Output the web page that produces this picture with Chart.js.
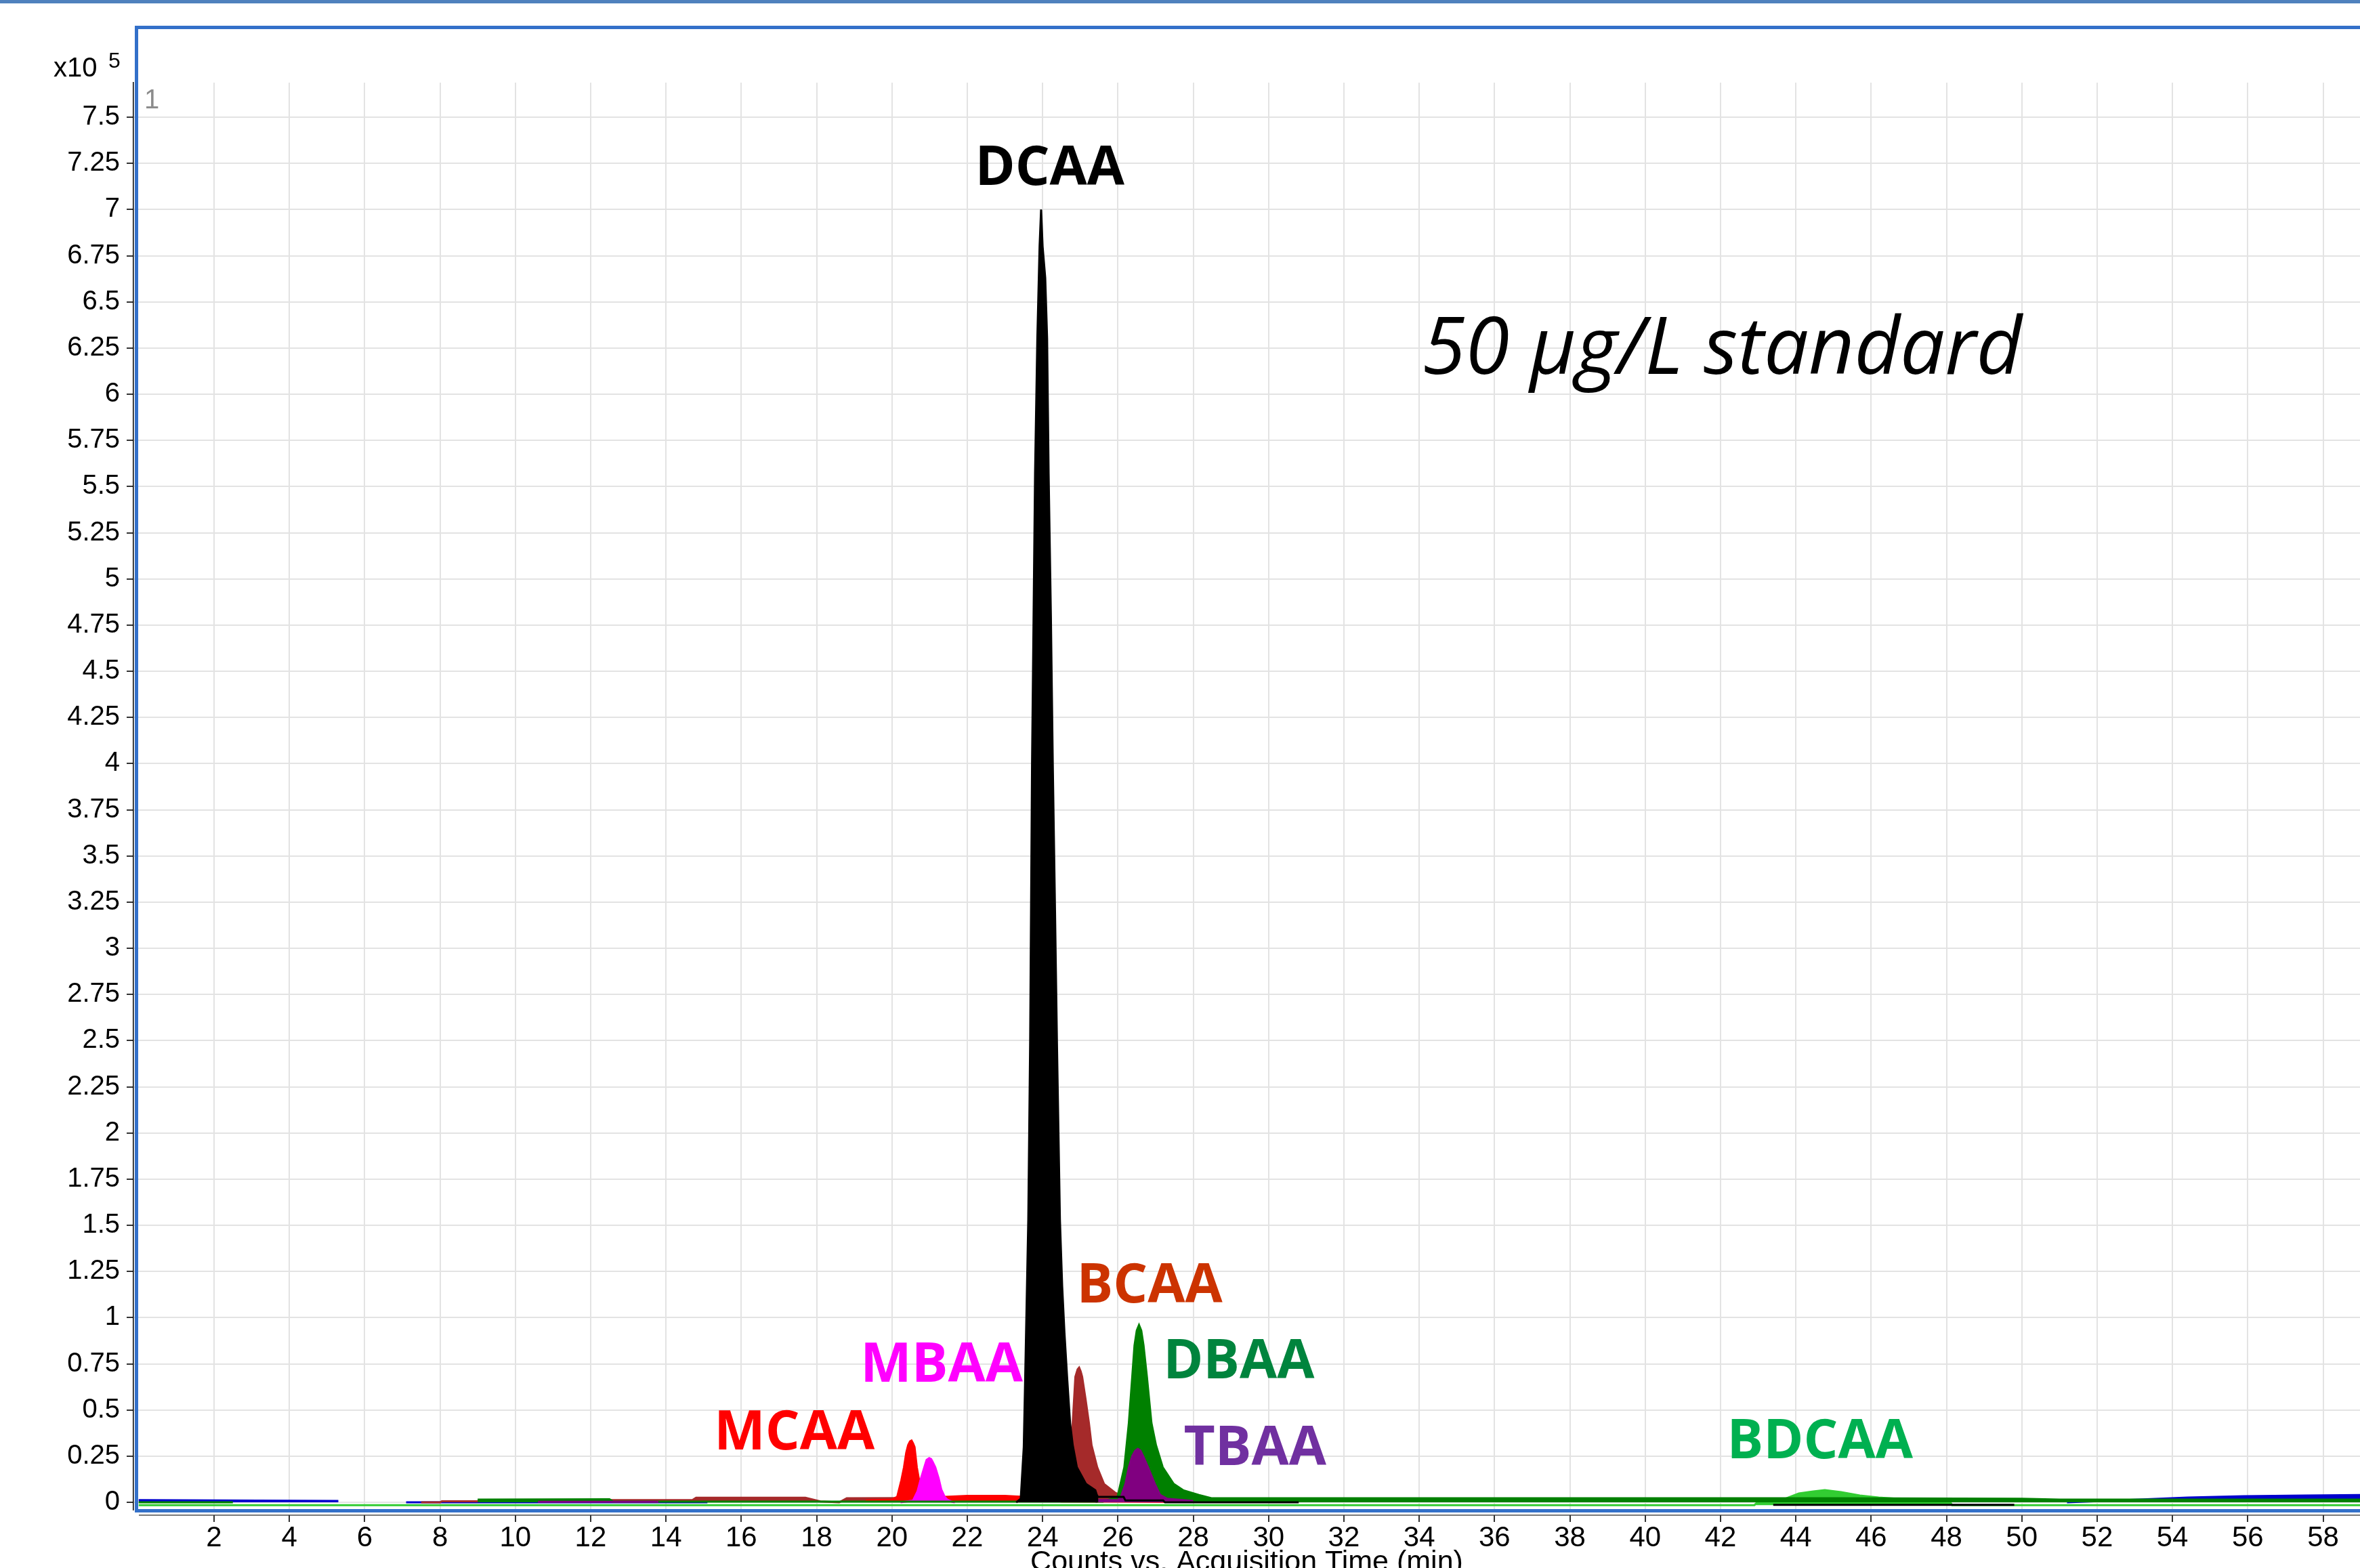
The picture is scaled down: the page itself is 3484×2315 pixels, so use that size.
<!DOCTYPE html>
<html>
<head>
<meta charset="utf-8">
<script src="https://cdn.jsdelivr.net/npm/chart.js@4.4.1/dist/chart.umd.min.js"></script>
<style>
  html, body { margin: 0; padding: 0; background: #fff; overflow: hidden; }
  canvas { display: block; }
</style>
</head>
<body>
<canvas id="chromatogram" width="3484" height="2336"></canvas>
<script>
// axis ticks
const xTickValues = [2, 4, 6, 8, 10, 12, 14, 16, 18, 20, 22, 24, 26, 28, 30, 32, 34, 36, 38, 40, 42, 44, 46, 48, 50, 52, 54, 56, 58];
const yTickValues = [0, 0.25, 0.5, 0.75, 1, 1.25, 1.5, 1.75, 2, 2.25, 2.5, 2.75, 3, 3.25, 3.5, 3.75, 4, 4.25, 4.5, 4.75, 5, 5.25, 5.5, 5.75, 6, 6.25, 6.5, 6.75, 7, 7.25, 7.5];

// traces: acquisition time (min) and counts (x10^5)
const dcaaTime = [23.3, 23.42, 23.5, 23.55, 23.62, 23.67, 23.72, 23.8, 23.86, 23.92, 23.96, 24.0, 24.07, 24.12, 24.16, 24.22, 24.27, 24.33, 24.38, 24.46, 24.52, 24.58, 24.65, 24.73, 24.8, 24.91, 25.15, 25.4, 25.44, 25.45];
const dcaaCounts = [0.0, 0.02, 0.3, 0.8, 1.53, 2.5, 4.0, 5.57, 6.3, 6.8, 7.0, 6.8, 6.63, 6.3, 5.57, 4.8, 4.0, 3.2, 2.5, 1.53, 1.17, 0.92, 0.68, 0.43, 0.31, 0.19, 0.10, 0.066, 0.04, 0.0];

const dcaaTailTime = [25.44, 25.46, 26.15, 26.2, 27.2, 27.25, 30.8, 30.85, 43.4, 49.8];
const dcaaTailCounts = [0.04, 0.03, 0.03, 0.01, 0.01, 0.0, 0.0, null, -0.013, -0.013];

const bcaaTime = [7.5, 8.0, 8.05, 12.0, 12.3, 14.7, 14.8, 17.7, 18.1, 18.6, 18.8, 24.0, 24.6, 24.73, 24.77, 24.8, 24.87, 24.93, 24.97, 25.01, 25.05, 25.14, 25.23, 25.3, 25.45, 25.63, 25.94, 26.3, 27.0, 28.0, 35.0, 45.0, 50.5, 51.0, 59.0];
const bcaaCounts = [0.0, 0.0, 0.006, 0.006, 0.012, 0.012, 0.025, 0.025, 0.005, 0.0, 0.022, 0.025, 0.03, 0.1, 0.19, 0.43, 0.68, 0.72, 0.73, 0.71, 0.68, 0.56, 0.43, 0.31, 0.19, 0.10, 0.05, 0.03, 0.022, 0.018, 0.016, 0.015, 0.013, 0.006, 0.006];

const dbaaTime = [0.0, 2.5, 2.6, 8.9, 9.0, 12.5, 12.6, 25.6, 25.99, 26.17, 26.29, 26.38, 26.44, 26.5, 26.56, 26.62, 26.68, 26.77, 26.89, 27.01, 27.19, 27.48, 27.73, 28.15, 28.5, 35.0, 45.0, 50.0, 51.0, 59.0];
const dbaaCounts = [0.0, 0.0, null, null, 0.015, 0.017, 0.004, 0.004, 0.03, 0.19, 0.43, 0.68, 0.85, 0.93, 0.96, 0.93, 0.85, 0.68, 0.43, 0.31, 0.19, 0.10, 0.066, 0.04, 0.022, 0.022, 0.022, 0.02, 0.015, 0.015];

const tbaaTime = [10.6, 13.8, 13.85, 25.4, 25.45, 26.0, 26.08, 26.2, 26.29, 26.38, 26.46, 26.53, 26.6, 26.67, 26.8, 26.98, 27.12, 27.3, 28.0];
const tbaaCounts = [0.003, 0.003, null, 0.0, 0.012, 0.012, 0.03, 0.1, 0.19, 0.25, 0.28, 0.29, 0.28, 0.25, 0.19, 0.10, 0.04, 0.02, 0.008];

const mcaaTime = [19.3, 20.0, 20.14, 20.25, 20.32, 20.38, 20.43, 20.48, 20.52, 20.56, 20.6, 20.66, 20.72, 20.77, 20.89, 21.0, 21.4, 22.0, 23.0, 23.5, 24.5, 26.0, 28.0];
const mcaaCounts = [0.01, 0.015, 0.03, 0.12, 0.19, 0.27, 0.31, 0.33, 0.335, 0.32, 0.3, 0.19, 0.12, 0.07, 0.025, 0.015, 0.03, 0.035, 0.035, 0.03, 0.005, 0.004, 0.002];

const mbaaTime = [20.23, 20.56, 20.68, 20.77, 20.86, 20.92, 20.99, 21.04, 21.08, 21.15, 21.24, 21.31, 21.4, 21.47, 21.6, 21.67];
const mbaaCounts = [0.0, 0.01, 0.06, 0.13, 0.19, 0.23, 0.24, 0.235, 0.22, 0.19, 0.13, 0.07, 0.03, 0.015, 0.003, 0.0];

const bdcaaTime = [0.0, 42.9, 42.95, 43.4, 43.7, 44.08, 44.46, 44.77, 45.2, 45.7, 46.2, 46.8, 47.37, 47.4, 48.1, 48.15, 59.0];
const bdcaaCounts = [-0.015, -0.015, -0.005, 0.0, 0.018, 0.048, 0.059, 0.066, 0.055, 0.037, 0.026, 0.018, 0.011, 0.0, 0.0, -0.015, -0.015];

const blueTime = [0.0, 5.3, 5.35, 7.1, 15.1, 15.15, 51.2, 53.1, 54.4, 55.9, 57.5, 59.0];
const blueCounts = [0.012, 0.008, null, 0.0, 0.0, null, 0.0, 0.015, 0.026, 0.033, 0.037, 0.04];

// peak annotations, placed in data units
const peakLabels = [
    { text: 'DCAA', color: '#000000', time: 24.19, counts: 7.133, font: 'bold 80px "Open Sans"' },
    { text: 'BCAA', color: '#cc3300', time: 26.84, counts: 1.082, font: 'bold 80px "Open Sans"' },
    { text: 'MBAA', color: '#ff00ff', time: 21.32, counts: 0.653, font: 'bold 80px "Open Sans"' },
    { text: 'DBAA', color: '#00843d', time: 29.21, counts: 0.671, font: 'bold 80px "Open Sans"' },
    { text: 'MCAA', color: '#ff0000', time: 17.41, counts: 0.286, font: 'bold 80px "Open Sans"' },
    { text: 'TBAA', color: '#7030a0', time: 29.64, counts: 0.202, font: 'bold 80px "Open Sans"' },
    { text: 'BDCAA', color: '#00b050', time: 44.64, counts: 0.238, font: 'bold 80px "Open Sans"' },
    { text: '50 µg/L standard', color: '#000000', time: 42.04, counts: 6.11, font: 'italic 117px "Open Sans"' }
];

function toPoints(times, counts) {
    return times.map((t, i) => ({ x: t, y: counts[i] }));
}

const traces = [
    { label: 'DCAA', times: dcaaTime, counts: dcaaCounts, color: '#000000', fill: 'origin', order: 1 },
    { label: 'DCAA tail', times: dcaaTailTime, counts: dcaaTailCounts, color: '#000000', fill: false, order: 2 },
    { label: 'TBAA', times: tbaaTime, counts: tbaaCounts, color: '#800080', fill: 'origin', order: 3 },
    { label: 'DBAA', times: dbaaTime, counts: dbaaCounts, color: '#008000', fill: 'origin', order: 4 },
    { label: 'MBAA', times: mbaaTime, counts: mbaaCounts, color: '#ff00ff', fill: 'origin', order: 5 },
    { label: 'MCAA', times: mcaaTime, counts: mcaaCounts, color: '#ff0000', fill: 'origin', order: 6 },
    { label: 'BCAA', times: bcaaTime, counts: bcaaCounts, color: '#a52a2a', fill: 'origin', order: 7 },
    { label: 'BDCAA', times: bdcaaTime, counts: bdcaaCounts, color: '#32cd32', fill: { value: -0.015 }, order: 8 },
    { label: 'blue', times: blueTime, counts: blueCounts, color: '#0000cd', fill: 'origin', order: 9 }
];

const decorPlugin = {
    id: 'decor',
    beforeDraw(chart) {
        const { ctx, width, height } = chart;
        ctx.save();
        ctx.fillStyle = '#ffffff';
        ctx.fillRect(0, 0, width, height);
        ctx.fillStyle = '#4f81bd';
        ctx.fillRect(0, 0, width, 5);
        ctx.restore();
    },
    afterDatasetsDraw(chart) {
        const { ctx, scales } = chart;
        ctx.save();
        ctx.textAlign = 'center';
        ctx.textBaseline = 'alphabetic';
        peakLabels.forEach(l => {
            ctx.font = l.font;
            ctx.fillStyle = l.color;
            ctx.fillText(l.text, scales.x.getPixelForValue(l.time), scales.y.getPixelForValue(l.counts));
        });
        ctx.restore();
    },
    afterDraw(chart) {
        const { ctx, chartArea: area, scales } = chart;
        ctx.save();
        // blue frame round the plot
        ctx.strokeStyle = '#3370c9';
        ctx.lineWidth = 5;
        ctx.beginPath();
        ctx.moveTo(chart.width + 10, 40.5);
        ctx.lineTo(area.left + 4.5, 40.5);
        ctx.lineTo(area.left + 4.5, area.bottom + 1.5);
        ctx.lineTo(chart.width + 10, area.bottom + 1.5);
        ctx.stroke();

        // x axis line and tick marks below the frame
        ctx.strokeStyle = '#7a7a7a';
        ctx.lineWidth = 2;
        ctx.beginPath();
        ctx.moveTo(area.left + 8, area.bottom + 8);
        ctx.lineTo(area.right, area.bottom + 8);
        ctx.stroke();
        ctx.strokeStyle = '#333333';
        xTickValues.forEach(v => {
            const px = Math.round(scales.x.getPixelForValue(v));
            ctx.beginPath();
            ctx.moveTo(px, area.bottom + 8);
            ctx.lineTo(px, area.bottom + 18);
            ctx.stroke();
        });

        // multiplier and panel number
        ctx.fillStyle = '#000000';
        ctx.textAlign = 'left';
        ctx.textBaseline = 'alphabetic';
        ctx.font = '40px "Liberation Sans"';
        ctx.fillText('x10', 79, 113);
        ctx.font = '32px "Liberation Sans"';
        ctx.fillText('5', 160, 100);
        ctx.fillStyle = '#8c8c8c';
        ctx.font = '40px "Liberation Sans"';
        ctx.fillText('1', 213, 160);
        ctx.restore();
    }
};

const canvas = document.getElementById('chromatogram');
Chart.defaults.font.family = '"Liberation Sans", Arial, sans-serif';
Chart.defaults.color = '#000000';

new Chart(canvas.getContext('2d'), {
    type: 'line',
    data: {
        datasets: traces.map(t => ({
            label: t.label,
            data: toPoints(t.times, t.counts),
            borderColor: t.color,
            backgroundColor: t.color,
            borderWidth: 3,
            pointRadius: 0,
            tension: 0,
            fill: t.fill,
            order: t.order,
            spanGaps: false
        }))
    },
    options: {
        responsive: false,
        devicePixelRatio: 1,
        animation: false,
        layout: { padding: { top: 122, right: 0, left: 0, bottom: 0 } },
        plugins: {
            legend: { display: false },
            tooltip: { enabled: false }
        },
        scales: {
            x: {
                type: 'linear',
                min: -0.14,
                max: 58.98,
                afterBuildTicks: axis => { axis.ticks = xTickValues.map(v => ({ value: v })); },
                afterFit: axis => { axis.height = canvas.height - 2229; },
                grid: { color: '#e3e3e3', lineWidth: 2, drawTicks: false },
                border: { display: false },
                ticks: {
                    autoSkip: false,
                    maxRotation: 0,
                    padding: 17,
                    font: { size: 42 },
                    callback: v => String(v)
                },
                title: {
                    display: true,
                    text: 'Counts vs. Acquisition Time (min)',
                    font: { size: 43 },
                    color: '#000000',
                    padding: { top: 0, bottom: 3 }
                }
            },
            y: {
                type: 'linear',
                min: -0.04,
                max: 7.687,
                afterBuildTicks: axis => { axis.ticks = yTickValues.map(v => ({ value: v })); },
                afterFit: axis => { axis.width = 197; },
                grid: { color: '#e3e3e3', lineWidth: 2, tickColor: '#333333', tickLength: 10 },
                border: { display: true, color: '#000000', width: 1.5 },
                ticks: {
                    autoSkip: false,
                    padding: 10,
                    font: { size: 40 },
                    callback: v => String(v)
                }
            }
        }
    },
    plugins: [decorPlugin]
});
</script>
</body>
</html>
